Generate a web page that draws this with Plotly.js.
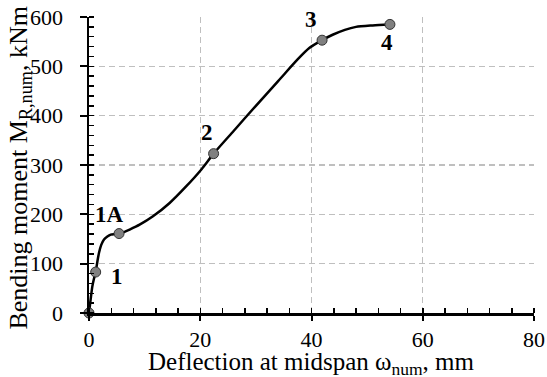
<!DOCTYPE html>
<html>
<head>
<meta charset="utf-8">
<script src="https://cdn.plot.ly/plotly-3.0.1.min.js"></script>
<style>html,body{margin:0;padding:0;background:#fff}#chart{width:547px;height:377px}</style>
</head>
<body>
<div id="chart"></div>
<script>
// Curve (deflection mm, moment kNm)
var curveX = [0, 0.3, 0.6, 0.9, 1.2, 1.5, 1.8, 2.2, 2.7, 3.3, 3.9, 4.6, 5.4, 6.3, 7.3, 9.1, 11.5, 14.5, 17.5, 20.2, 22.4, 26, 30, 34, 37.5, 39.6, 41.9, 43.8, 46, 48, 51, 54.1];
var curveY = [0, 28, 54, 70, 83, 104, 122, 138, 149, 155, 159, 160, 161, 164, 169, 179, 196, 223, 257, 291, 323, 369, 420, 470, 514, 537, 553, 564, 574, 580, 583, 585];
// Marked states
var pointX = [0, 1.2, 5.4, 22.4, 41.9, 54.1];
var pointY = [0, 83, 161, 323, 553, 585];
var pointLabels = ['0', '1', '1A', '2', '3', '4'];
var labelX = [4.3, 5.1, 3.7, 21.2, 39.9, 53.5];
var labelY = [-35, 74, 199, 365, 595, 548];
// Axis titles
var xTitle = 'Deflection at midspan ω<sub>num</sub>, mm';
var yTitle = 'Bending moment M<sub>R,num</sub>, kNm';

var serif = '"Liberation Serif", "Times New Roman", serif';

var traces = [
  {x: curveX, y: curveY, type: 'scatter', mode: 'lines',
   line: {color: '#000', width: 2.5, shape: 'spline', smoothing: 0.7},
   hoverinfo: 'skip', cliponaxis: false},
  {x: pointX, y: pointY, type: 'scatter', mode: 'markers',
   marker: {size: 10, color: '#808080', line: {color: '#333', width: 1}},
   cliponaxis: false}
];

var annotations = pointLabels.map(function (t, i) {
  return {x: labelX[i], y: labelY[i], xref: 'x', yref: 'y', text: '<b>' + t + '</b>',
    showarrow: false, font: {family: serif, size: 23, color: '#000'}};
});
annotations.push({xref: 'paper', yref: 'paper', x: 0.5, y: -0.172, xanchor: 'center', yanchor: 'middle',
  text: xTitle, showarrow: false, font: {family: serif, size: 25, color: '#000'}});
annotations.push({xref: 'paper', yref: 'paper', x: -0.156, y: 0.49, xanchor: 'center', yanchor: 'middle',
  text: yTitle, textangle: -90, showarrow: false, font: {family: serif, size: 26, color: '#000'}});

var layout = {
  width: 547, height: 377,
  margin: {l: 89, r: 13, t: 17, b: 64},
  paper_bgcolor: '#fff', plot_bgcolor: '#fff',
  showlegend: false,
  font: {family: serif, size: 21, color: '#000'},
  xaxis: {
    range: [0, 80], dtick: 20, tick0: 0,
    showline: true, linecolor: '#000', linewidth: 2.5,
    zeroline: false,
    showgrid: true, gridcolor: '#bfbfbf', gridwidth: 1.3, griddash: '6px,4px',
    ticks: 'outside', ticklen: 5, tickwidth: 2, tickcolor: '#000',
    minor: {dtick: 4, ticks: 'inside', ticklen: 5, tickwidth: 1.5, tickcolor: '#000', showgrid: false},
    tickfont: {family: serif, size: 22},
    ticklabelstandoff: 0,
    automargin: false
  },
  xaxis2: {
    range: [0, 80], dtick: 20, tick0: 0, overlaying: 'x', anchor: 'y', side: 'bottom',
    showline: false, zeroline: false, showgrid: false, showticklabels: false,
    ticks: 'inside', ticklen: 8, tickwidth: 2, tickcolor: '#000'
  },
  yaxis: {
    range: [0, 600], dtick: 100, tick0: 0,
    showline: true, linecolor: '#000', linewidth: 2.5,
    zeroline: false,
    showgrid: true, gridcolor: '#bfbfbf', gridwidth: 1.3, griddash: '6px,4px',
    ticks: 'outside', ticklen: 7, tickwidth: 2, tickcolor: '#000',
    minor: {dtick: 20, ticks: 'inside', ticklen: 5, tickwidth: 1.5, tickcolor: '#000', showgrid: false},
    tickfont: {family: serif, size: 22},
    ticklabelstandoff: 12,
    automargin: false
  },
  yaxis2: {
    range: [0, 600], dtick: 100, tick0: 0, overlaying: 'y', anchor: 'x', side: 'left',
    showline: false, zeroline: false, showgrid: false, showticklabels: false,
    ticks: 'inside', ticklen: 8, tickwidth: 2, tickcolor: '#000'
  },
  annotations: annotations
};

Plotly.newPlot('chart', traces, layout, {displayModeBar: false, staticPlot: true});
</script>
</body>
</html>
